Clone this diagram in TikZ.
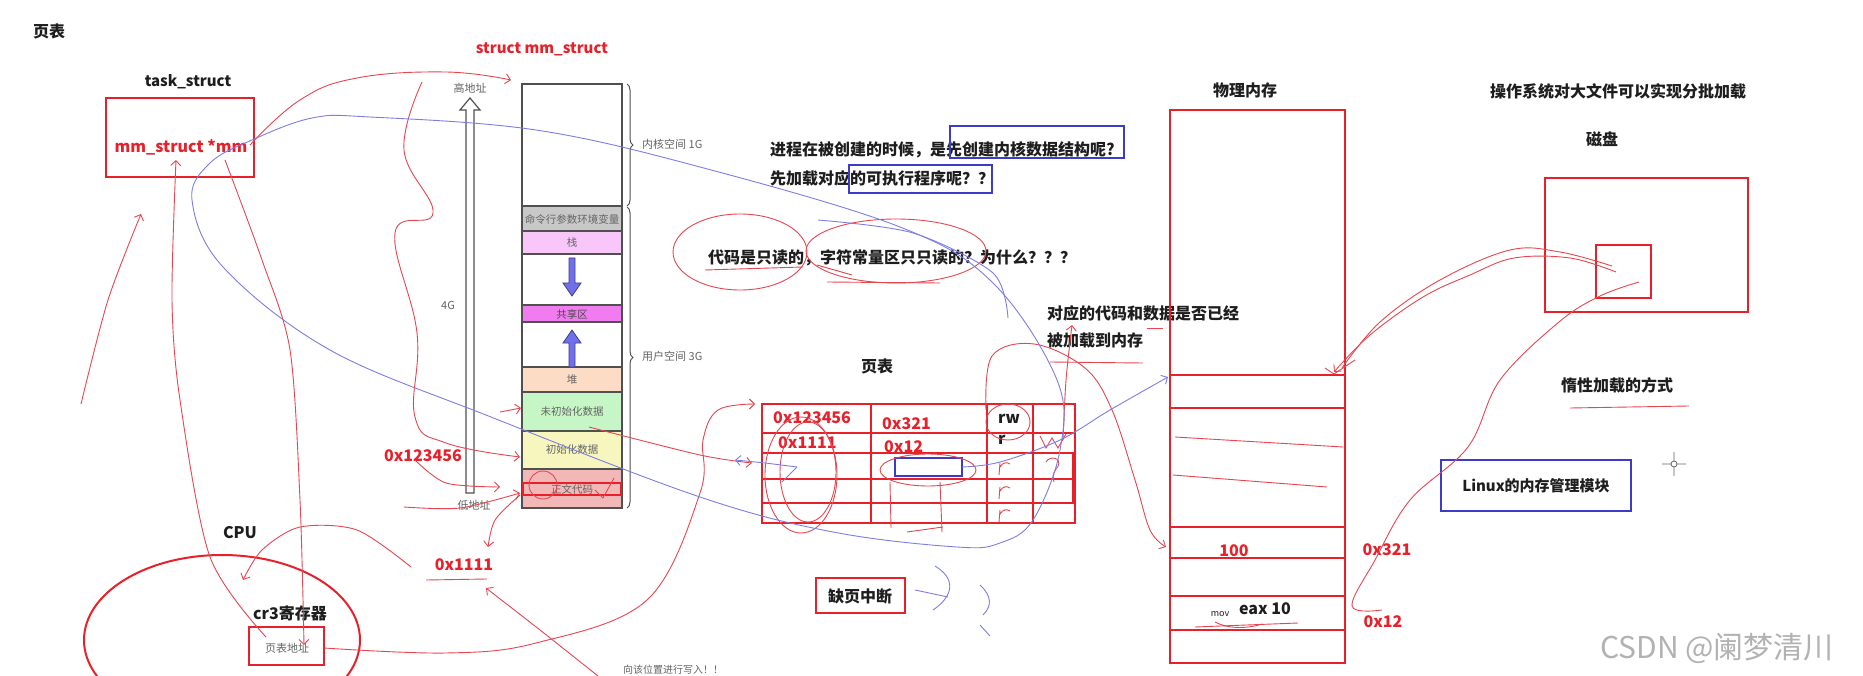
\documentclass[tikz,border=0pt]{standalone}
\usepackage{fontspec}
\setmainfont{Noto Sans CJK SC}
\usetikzlibrary{arrows.meta,decorations.pathreplacing}
\definecolor{pred}{RGB}{232,32,42}
\definecolor{hred}{RGB}{230,70,80}
\definecolor{pblue}{RGB}{60,60,200}
\definecolor{hblue}{RGB}{125,125,228}
\definecolor{mgray}{RGB}{80,80,80}
\definecolor{gtxt}{RGB}{100,100,100}
\definecolor{txt}{RGB}{30,30,30}
\definecolor{segcmd}{RGB}{200,200,200}
\definecolor{segstack}{RGB}{248,198,248}
\definecolor{segshare}{RGB}{240,124,240}
\definecolor{segheap}{RGB}{252,220,196}
\definecolor{segbss}{RGB}{198,246,198}
\definecolor{segdata}{RGB}{246,246,190}
\definecolor{segtext}{RGB}{242,184,184}
\definecolor{ablue}{RGB}{112,112,236}
\tikzset{
  lbl/.style={inner sep=0pt, font=\bfseries\fontsize{16}{18}\selectfont, text=txt},
  rlbl/.style={lbl, text=pred},
  small/.style={inner sep=0pt, font=\fontsize{11}{12}\selectfont, text=gtxt},
  seglbl/.style={inner sep=0pt, font=\fontsize{10.5}{11}\selectfont, text=gtxt},
  redbox/.style={draw=pred, line width=2pt},
  bluebox/.style={draw=pblue, line width=2pt},
  seg/.style={draw=mgray, line width=1.5pt},
  hand/.style={draw=hred, line width=0.9pt},
  handb/.style={draw=hblue, line width=0.9pt},
  harr/.style={-{Straight Barb[length=5pt,width=10pt]}},
}
\begin{document}
\begin{tikzpicture}[x=1pt,y=-1pt]
\clip (0,0) rectangle (1863,676);
\fill[white] (0,0) rectangle (1863,676);

% ---------- titles ----------
\node[lbl] (title) at (49,31) {页表};
\node[lbl, font=\bfseries\fontsize{15}{17}\selectfont] (tasklbl) at (188,82) {task\_struct};
\draw[redbox] (106,98) rectangle (254,177);
\node[rlbl] (mm) at (181,147) {mm\_struct *mm};
\node[rlbl, font=\bfseries\fontsize{15}{17}\selectfont] (mmlbl) at (542,49) {struct mm\_struct};

% ---------- memory layout ----------
\draw[seg, fill=white] (522,84) rectangle (622,206);
\draw[seg, fill=segcmd] (522,206) rectangle (622,231);
\node[seglbl] (scmd) at (572,219) {命令行参数环境变量};
\draw[seg, fill=segstack] (522,231) rectangle (622,254);
\node[seglbl] (sstack) at (572,243) {栈};
\draw[seg, fill=white] (522,254) rectangle (622,305);
\draw[seg, fill=segshare] (522,305) rectangle (622,322);
\node[seglbl, text=txt!80] (sshare) at (572,314) {共享区};
\draw[seg, fill=white] (522,322) rectangle (622,367);
\draw[seg, fill=segheap] (522,367) rectangle (622,392);
\node[seglbl] (sheap) at (572,380) {堆};
\draw[seg, fill=segbss] (522,392) rectangle (622,431);
\node[seglbl] (sbss) at (572,412) {未初始化数据};
\draw[seg, fill=segdata] (522,431) rectangle (622,469);
\node[seglbl] (sdata) at (572,450) {初始化数据};
\draw[seg, fill=segtext] (522,469) rectangle (622,508);
\node[seglbl] (stext) at (572,489) {正文代码};
\draw[draw=pred, line width=1.8pt] (523,483) rectangle (621,495);
% blue arrows
\draw[fill=ablue, draw=ablue!55!black, line width=0.8pt] (569,258)--(575,258)--(575,283)--(581,283)--(572,296)--(563,283)--(569,283)--cycle;
\draw[fill=ablue, draw=ablue!55!black, line width=0.8pt] (569,367)--(575,367)--(575,343)--(581,343)--(572,330)--(563,343)--(569,343)--cycle;
% braces
\draw[mgray, line width=1pt, decorate, decoration={brace, amplitude=6pt}] (627,84) -- (627,206);
\draw[mgray, line width=1pt, decorate, decoration={brace, amplitude=6pt}] (627,207) -- (627,508);
\node[small, anchor=west] (kern) at (642,144) {内核空间 1G};
\node[small, anchor=west] (user) at (642,356) {用户空间 3G};
% address arrow
\draw[mgray, fill=white, line width=1.2pt] (466,493)--(466,110)--(460,110)--(470,98)--(480,110)--(474,110)--(474,493)--cycle;
\node[small] (hi) at (470,88) {高地址};
\node[small] (lo) at (474,505) {低地址};
\node[small] (fourg) at (448,305) {4G};

% ---------- questions ----------
\node[lbl, anchor=west] (q1) at (770,150) {进程在被创建的时候，是先创建内核数据结构呢?};
\node[lbl, anchor=west] (q2) at (770,178) {先加载对应的可执行程序呢？？};
\draw[bluebox] (950,126) rectangle (1124,158);
\draw[bluebox] (849,165) rectangle (992,193);
\node[lbl, anchor=west] (q3) at (708,258) {代码是只读的，字符常量区只只读的？为什么？？？};
\node[lbl, anchor=west] (q4) at (1047,313) {对应的代码和数据是否已经};
\node[lbl, anchor=west] (q5) at (1047,340) {被加载到内存};

% ---------- page table ----------
\node[lbl] (ptlbl) at (877,366) {页表};
\draw[redbox, line width=2.6pt] (762,404) rectangle (1033,523);
\foreach \yy in {433,453,479,503} \draw[redbox, line width=2.4pt] (762,\yy) -- (1033,\yy);
\draw[redbox, line width=2.4pt] (871,404) -- (871,523);
\draw[redbox, line width=2.4pt] (987,404) -- (987,523);
\draw[redbox] (1033,404) rectangle (1075,523);
\foreach \yy in {433,453,479,503} \draw[redbox] (1033,\yy) -- (1075,\yy);
\draw[redbox, line width=2.6pt] (1073,453) -- (1073,503);
\node[rlbl, anchor=west] (pa1) at (773,418) {0x123456};
\node[rlbl, anchor=west] (pp1) at (882,424) {0x321};
\node[lbl, anchor=west] (pr1) at (998,419) {rw};
\node[rlbl, anchor=west] (pa2) at (778,443) {0x1111};
\node[rlbl, anchor=west] (pp2) at (884,447) {0x12};
\node[lbl, anchor=west] (pr2) at (998,440) {r};
\draw[bluebox] (895,458) rectangle (962,476);
\coordinate (brect) at (962,467);

\draw[redbox] (816,578) rectangle (905,613);
\node[lbl] (fault) at (860,596) {缺页中断};

% ---------- physical memory ----------
\node[lbl] (pmlbl) at (1245,90) {物理内存};
\draw[redbox] (1170,110) rectangle (1345,663);
\draw[redbox, line width=2.6pt] (1170,375) rectangle (1345,408);
\draw[redbox, line width=2.8pt] (1170,527) rectangle (1345,558);
\draw[redbox, line width=2.8pt] (1170,596) rectangle (1345,630);
\node[rlbl] (v100) at (1234,551) {100};
\node[rlbl] (a321) at (1387,550) {0x321};
\node[inner sep=0pt, font=\fontsize{9}{10}\selectfont, text=txt] (mov) at (1220,614) {mov};
\node[lbl] (eax) at (1265,609) {eax 10};
\node[rlbl] (a12) at (1383,622) {0x12};
\coordinate (pmrow) at (1170,377);
\coordinate (pm100) at (1168,546);

% ---------- disk ----------
\node[lbl] (oslbl) at (1618,91) {操作系统对大文件可以实现分批加载};
\node[lbl] (disklbl) at (1602,139) {磁盘};
\draw[redbox] (1545,178) rectangle (1748,312);
\draw[redbox] (1596,245) rectangle (1651,298);
\node[lbl] (lazy) at (1617,385) {惰性加载的方式};
\draw[hand] (1570,408) -- (1689,406);
\draw[bluebox] (1441,460) rectangle (1631,511);
\node[lbl, font=\bfseries\fontsize{15}{17}\selectfont] (linux) at (1536,486) {Linux的内存管理模块};
\draw[gtxt, line width=0.8pt] (1674,464) circle (3pt) (1662,464)--(1671,464) (1677,464)--(1686,464) (1674,452)--(1674,461) (1674,467)--(1674,476);
\node[inner sep=0pt, font=\fontsize{30}{32}\selectfont, text=black!30] (wm) at (1717,648) {CSDN @阑梦清川};

% ---------- CPU ----------
\node[lbl] (cpu) at (240,533) {CPU};
\draw[pred, line width=2pt] (222,640) ellipse [x radius=138pt, y radius=85pt];
\node[lbl] (cr3) at (290,613) {cr3寄存器};
\draw[redbox] (249,627) rectangle (324,665);
\node[small] (ptaddr) at (287,648) {页表地址};
\node[rlbl] (l123) at (423,456) {0x123456};
\node[rlbl] (l1111) at (464,565) {0x1111};
\node[small, font=\fontsize{10}{11}\selectfont] (write) at (673,670) {向该位置进行写入！！};

% ---------- hand drawn red strokes ----------
\draw[hand, harr] plot[smooth, tension=0.7] coordinates {(250,145) (300,100) (357,78) (446,72) (511,80)};
\draw[hand, harr] plot[smooth, tension=0.7] coordinates {(422,82) (404,150) (433,213) (395,233) (417,333) (415,417) (446,443) (520,457)};
\draw[hand, harr] plot[smooth] coordinates {(81,404) (108,300) (141,214)};
\draw[hand, harr] plot[smooth] coordinates {(266,637) (210,557) (180,400) (172,300) (176,160)};
\draw[hand, harr] plot[smooth] coordinates {(225,160) (262,260) (290,350) (300,500) (304,645)};
\draw[hand, harr] plot[smooth, tension=0.6] coordinates {(324,648) (446,653) (536,643) (647,600) (700,493) (703,440) (718,410) (755,404)};
\draw[hand, harr] (500,412) -- (521,408);
\draw[hand, harr] plot[smooth] coordinates {(415,460) (446,483) (500,487)};
\draw[hand, harr] plot[smooth] coordinates {(404,507) (460,508) (520,493)};
\draw[hand, harr] plot[smooth] coordinates {(520,495) (495,520) (488,547)};
\draw[hand] (426,580) -- (487,579);
\draw[hand, harr] plot[smooth] coordinates {(598,676) (540,630) (486,588)};
\draw[hand, harr] plot[smooth] coordinates {(411,567) (357,530) (300,527) (262,550) (243,580)};
\draw[hand, harr] plot[smooth] coordinates {(589,427) (700,455) (752,463)};
\draw[hand] (543,485) circle (14pt);
\draw[hand] (595,490) -- (603,498) -- (614,478);
% around code text
\draw[hand] (740,252) ellipse [x radius=67pt, y radius=38pt];
\draw[hand] (896,251) ellipse [x radius=90pt, y radius=32pt];
\draw[hand] (705,270) -- (803,267);
\draw[hand] (827,282) -- (940,283);
\draw[hand] (817,265) -- (852,275);
\draw[hand] (1050,362) -- (1143,363);
\draw[hand] (1147,328) -- (1163,328);
\draw[hand, harr] plot[smooth] coordinates {(1063,440) (1066,380) (1072,325)};
\draw[hand, harr] plot[smooth, tension=0.6] coordinates {(986,410) (992,356) (1034,344) (1085,368) (1112,410) (1135,480) (1150,530) (1166,547)};
% page table scribbles
\draw[hand] (801,475) ellipse [x radius=36pt, y radius=58pt];
\draw[hand] (808,472) ellipse [x radius=28pt, y radius=50pt];
\draw[hand] (928,470) ellipse [x radius=48pt, y radius=16pt];
\draw[hand] (890,482) -- (891,528) (940,482) -- (942,532) (907,532) -- (943,527);
\draw[hand] (1008,422) ellipse [x radius=22pt, y radius=18pt];
\foreach \yy in {468,492,515} \draw[hand] (999,\yy+7) -- (1000,\yy-5) (1000,\yy-1) .. controls (1003,\yy-6) and (1007,\yy-6) .. (1010,\yy-4);
\draw[hand] (1040,436) -- (1046,448) -- (1052,438) -- (1058,448) -- (1066,434);
\draw[hand] (1046,462) .. controls (1050,455) and (1062,458) .. (1058,466) .. controls (1054,472) and (1052,474) .. (1054,482);
% physical memory strokes
\draw[hand] (1175,437) -- (1343,447);
\draw[hand] (1173,475) -- (1327,487);
\draw[hand] (1195,627) -- (1298,623);
\draw[hand] (1215,622) .. controls (1230,630) and (1250,628) .. (1262,624);
% disk to memory
\draw[hand, harr] plot[smooth, tension=0.6] coordinates {(1616,272) (1570,258) (1514,258) (1470,275) (1423,297) (1370,335) (1334,372)};
\draw[hand] plot[smooth, tension=0.6] coordinates {(1612,266) (1560,252) (1510,250) (1440,280) (1380,322) (1342,368)};
\draw[hand] (1325,368) -- (1334,374) -- (1355,360);
\draw[hand] plot[smooth, tension=0.6] coordinates {(1639,282) (1600,296) (1559,322) (1500,380) (1468,447) (1410,500) (1375,560) (1352,606) (1382,610)};

% ---------- hand drawn blue strokes ----------
\draw[handb] plot[smooth cycle, tension=0.6] coordinates {(700,167) (900,227) (993,283) (1057,380) (1060,450) (1033,520) (1000,543) (957,547) (833,532) (700,497) (491,417) (330,350) (223,267) (192,200) (210,163) (252,140) (312,118) (370,117) (536,130)};
\draw[handb] plot[smooth] coordinates {(818,220) (913,233) (993,273) (1008,318)};
\draw[handb, harr] plot[smooth, tension=0.6] coordinates {(962,467) (1000,462) (1060,440) (1110,410) (1168,377)};
\draw[handb, harr] plot[smooth] coordinates {(797,467) (765,463) (735,460)};
\draw[handb] (797,467) -- (782,482);
\draw[handb] (915,590) -- (948,597);
\draw[handb] (935,566) .. controls (955,578) and (955,595) .. (933,610);
\draw[handb] (980,585) .. controls (992,596) and (992,606) .. (983,615);
\draw[handb] (980,625) -- (990,636);
\end{tikzpicture}
\end{document}
